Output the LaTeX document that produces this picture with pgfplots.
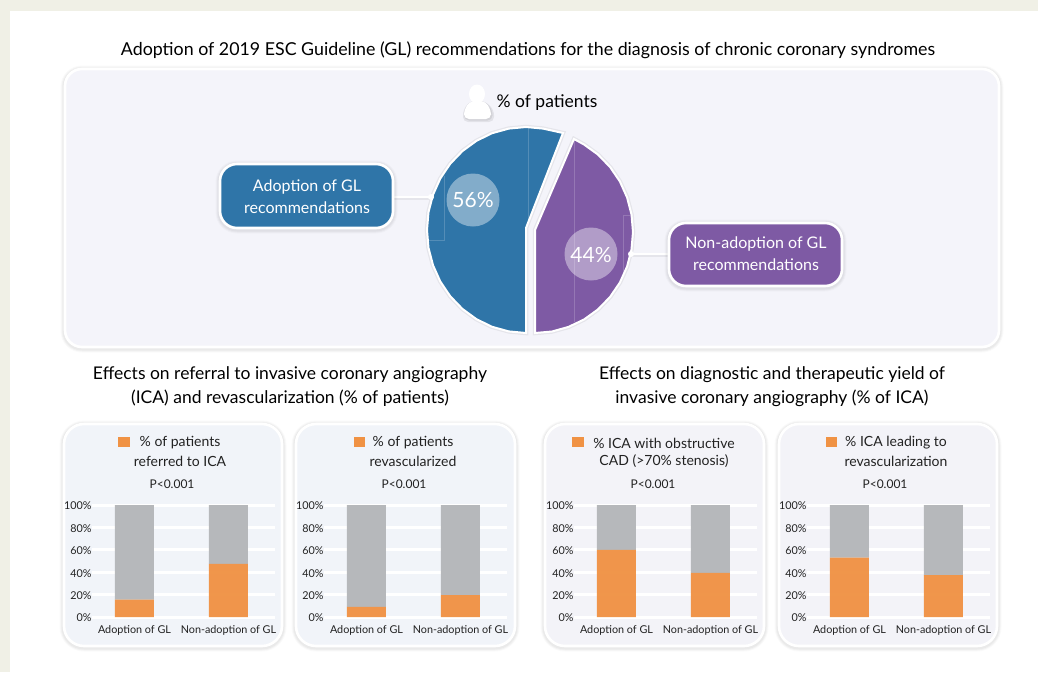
\documentclass[border=0pt]{standalone}
\usepackage{pgfplots}
\pgfplotsset{compat=1.18}
\usepackage{fontspec}
\setmainfont{Lato}
\definecolor{cream}{HTML}{F0F0E6}
\definecolor{panelA}{HTML}{F4F4FA}
\definecolor{panelB}{HTML}{F1F4F9}
\definecolor{panelC}{HTML}{F3F3F8}
\definecolor{pblue}{HTML}{2F75A8}
\definecolor{ppurple}{HTML}{7E5AA4}
\definecolor{porange}{HTML}{F09244}
\definecolor{pgray}{HTML}{B3B5B8}
\definecolor{txt}{HTML}{222222}
\pgfplotstableread{
x orange gray
0 15.5 84.5
1 47.5 52.5
}\tableA
\pgfplotstableread{
x orange gray
0 9 91
1 19.5 80.5
}\tableB
\pgfplotstableread{
x orange gray
0 60 40
1 39.5 60.5
}\tableC
\pgfplotstableread{
x orange gray
0 53 47
1 37.5 62.5
}\tableD
\pgfplotsset{
 barpanel/.style={
  scale only axis, width=183pt, height=112pt, anchor=south west,
  ybar stacked, bar width=39pt,
  ymin=0, ymax=100, ytick={0,20,40,60,80,100},
  yticklabel={\pgfmathprintnumber{\tick}\%},
  /pgf/number format/assume math mode=true,
  xmin=-0.452, xmax=1.495,
  xtick={0,1}, xticklabels={Adoption of GL,Non-adoption of GL},
  axis line style={draw=none}, major tick length=0pt,
  ymajorgrids, grid style={white, line width=3pt},
  tick label style={font=\fontsize{10.8}{12}\selectfont, text=txt},
  yticklabel style={xshift=3pt, yshift=-1pt},
  xticklabel style={yshift=-5pt},
  clip=false,
 },
 orangebar/.style={fill=porange, draw=none, fill opacity=0.96},
 graybar/.style={fill=pgray, draw=none, fill opacity=0.95},
}
\newcommand{\softbox}[6]{% x1 y1 x2 y2 radius fill
 \draw[black, line width=9pt, opacity=0.02, rounded corners=#5 pt] (axis cs:#1,#2+1) rectangle (axis cs:#3,#4+1);
 \draw[black, line width=7pt, opacity=0.03, rounded corners=#5 pt] (axis cs:#1,#2+1) rectangle (axis cs:#3,#4+1);
 \draw[black, line width=5pt, opacity=0.03, rounded corners=#5 pt] (axis cs:#1,#2+1) rectangle (axis cs:#3,#4+1);
 \draw[fill=#6, draw=white, line width=2.6pt, rounded corners=#5 pt]
    (axis cs:#1,#2) rectangle (axis cs:#3,#4);
}
\tikzset{
 lab/.style={font=\fontsize{#1}{#1}\selectfont, text=txt, inner sep=0pt, anchor=center},
 wlab/.style={font=\fontsize{#1}{#1}\selectfont, text=white, inner sep=0pt, anchor=center},
}
\begin{document}
\begin{tikzpicture}[x=1pt,y=1pt]
\useasboundingbox (0,0) rectangle (1038,672);
\fill[cream] (0,0) rectangle (1038,672);
\fill[white] (10,0) rectangle (1038,661);
\begin{axis}[at={(0pt,0pt)}, anchor=south west, scale only axis, width=1038pt, height=672pt,
  xmin=0, xmax=1038, ymin=0, ymax=672, y dir=reverse, hide axis, clip=false]
 % panels
 \softbox{65}{69}{999}{347}{17}{panelA}
 \softbox{64}{424}{282}{646}{20}{panelB}
 \softbox{296}{424}{515}{646}{20}{panelB}
 \softbox{545}{424}{764}{646}{20}{panelC}
 \softbox{779}{424}{997}{646}{20}{panelC}
 % connectors
 \draw[black, opacity=0.06, line width=3.5pt] (axis cs:394,198) -- (axis cs:432,198);
 \draw[black, opacity=0.06, line width=3.5pt] (axis cs:630,255) -- (axis cs:668,255);
 \draw[white, line width=2pt] (axis cs:394,197) -- (axis cs:432,197);
 \draw[white, line width=2pt] (axis cs:630,254) -- (axis cs:668,254);
 % pie slices
 \addplot[draw=black, draw opacity=0.06, line width=4.5pt, forget plot] coordinates {
  (526,228) (563,133) (543,128.6) (526,127) (508.8,128.6) (492.1,133.2) (476.5,140.8) (462.4,151.1)
  (450.2,163.8) (440.3,178.5) (433,194.8) (428.5,212.1) (427,230) (428.5,247.9) (433,265.2)
  (440.3,281.5) (450.2,296.2) (462.4,308.9) (476.5,319.2) (492.1,326.8) (508.8,331.4) (526,333)
 } -- cycle;
 \addplot[draw=black, draw opacity=0.06, line width=4.5pt, forget plot] coordinates {
  (535,230) (574,139) (584,144.5) (598,154.6) (610.1,167.1) (619.9,181.5) (627.1,197.5) (631.5,214.5)
  (633,232) (631.5,249.5) (627.1,266.5) (619.9,282.5) (610.1,296.9) (598,309.4) (584,319.5)
  (568.5,326.9) (552,331.5) (535,333)
 } -- cycle;
 \addplot[fill=pblue, draw=white, line width=2pt] coordinates {
  (526,228) (563,133) (543,128.6) (526,127) (508.8,128.6) (492.1,133.2) (476.5,140.8) (462.4,151.1)
  (450.2,163.8) (440.3,178.5) (433,194.8) (428.5,212.1) (427,230) (428.5,247.9) (433,265.2)
  (440.3,281.5) (450.2,296.2) (462.4,308.9) (476.5,319.2) (492.1,326.8) (508.8,331.4) (526,333)
 } -- cycle;
 \addplot[fill=ppurple, draw=white, line width=2pt] coordinates {
  (535,230) (574,139) (584,144.5) (598,154.6) (610.1,167.1) (619.9,181.5) (627.1,197.5) (631.5,214.5)
  (633,232) (631.5,249.5) (627.1,266.5) (619.9,282.5) (610.1,296.9) (598,309.4) (584,319.5)
  (568.5,326.9) (552,331.5) (535,333)
 } -- cycle;
 % faint artefact lines in the pie
 \draw[white, opacity=0.18, line width=0.5pt] (axis cs:528,128) -- (axis cs:528,222);
 \draw[white, opacity=0.18, line width=0.5pt] (axis cs:444.5,176) -- (axis cs:444.5,240) -- (axis cs:428,240);
 \draw[white, opacity=0.18, line width=0.5pt] (axis cs:574.6,140) -- (axis cs:574.6,322);
 \draw[white, opacity=0.18, line width=0.5pt] (axis cs:633,215) -- (axis cs:623,215) -- (axis cs:623,272);
 % value bubbles
 \fill[white, opacity=0.4] (axis cs:473,200) circle (26.5pt);
 \fill[white, opacity=0.4] (axis cs:591,254) circle (26.5pt);
 \node[wlab=21] at (axis cs:473,199.5) {56\%};
 \node[wlab=21] at (axis cs:591,254.5) {44\%};
 % dots
 \fill[white] (axis cs:431,197) circle (3pt);
 \fill[white] (axis cs:631,254) circle (3pt);
 % callouts
 \softbox{220}{164}{393}{228}{17}{pblue}
 \softbox{669}{223}{842}{286}{17}{ppurple}
 \node[wlab=16] at (axis cs:307,186.5) {Adoption of GL};
 \node[wlab=16] at (axis cs:307,207.5) {recommendations};
 \node[wlab=16] at (axis cs:756,243.5) {Non-adoption of GL};
 \node[wlab=16] at (axis cs:756,264.5) {recommendations};
 % person icon
 \fill[black, opacity=0.07, rounded corners=5pt] (axis cs:463,122) -- (axis cs:463,110) -- (axis cs:470,101) -- (axis cs:485,101) -- (axis cs:494,110) -- (axis cs:494,122) -- cycle;
 \fill[black, opacity=0.07, rounded corners=5pt] (axis cs:464,120.5) -- (axis cs:464,110) -- (axis cs:470,101) -- (axis cs:485,101) -- (axis cs:492.5,110) -- (axis cs:492.5,120.5) -- cycle;
 \fill[white, rounded corners=5pt] (axis cs:464,119) -- (axis cs:464,110) -- (axis cs:470,101) -- (axis cs:485,101) -- (axis cs:491,110) -- (axis cs:491,119) -- cycle;
 \fill[white] (axis cs:477,94) ellipse [x radius=8pt, y radius=9.5pt];
 \node[lab=17.5, text=black] at (axis cs:547,103) {\% of patients};
 % titles
 \node[lab=17.8, text=black] at (axis cs:528,50.5) {Adoption of 2019 ESC Guideline (GL) recommendations for the diagnosis of chronic coronary syndromes};
 \node[lab=17.5, text=black] at (axis cs:290,374.5) {Effects on referral to invasive coronary angiography};
 \node[lab=17.5, text=black] at (axis cs:290,398.5) {(ICA) and revascularization (\% of patients)};
 \node[lab=17.5, text=black] at (axis cs:772,374.5) {Effects on diagnostic and therapeutic yield of};
 \node[lab=17.5, text=black] at (axis cs:772,398.5) {invasive coronary angiography (\% of ICA)};
 % panel headers
 \fill[porange] (axis cs:118,437) rectangle (axis cs:130,447);
 \node[lab=14] at (axis cs:180,443) {\% of patients};
 \node[lab=14] at (axis cs:180,461) {referred to ICA};
 \node[lab=12] at (axis cs:172,484) {P<0.001};
 \fill[porange] (axis cs:354,437) rectangle (axis cs:365,447);
 \node[lab=14] at (axis cs:413,443) {\% of patients};
 \node[lab=14] at (axis cs:413,461) {revascularized};
 \node[lab=12] at (axis cs:404,484) {P<0.001};
 \fill[porange] (axis cs:572,437) rectangle (axis cs:584,447);
 \node[lab=14] at (axis cs:664,443) {\% ICA with obstructive};
 \node[lab=14] at (axis cs:664,461) {CAD (>70\% stenosis)};
 \node[lab=12] at (axis cs:653,484) {P<0.001};
 \fill[porange] (axis cs:826,437) rectangle (axis cs:837,447);
 \node[lab=14] at (axis cs:896,443) {\% ICA leading to};
 \node[lab=14] at (axis cs:896,461) {revascularization};
 \node[lab=12] at (axis cs:885,484) {P<0.001};
\end{axis}
\begin{axis}[barpanel, at={(92pt,55pt)}]
 \addplot[orangebar] table[x=x,y=orange] {\tableA};
 \addplot[graybar] table[x=x,y=gray] {\tableA};
 \draw[white, line width=3pt] (axis cs:-0.452,100) -- (axis cs:1.495,100);
\end{axis}
\begin{axis}[barpanel, at={(324pt,55pt)}]
 \addplot[orangebar] table[x=x,y=orange] {\tableB};
 \addplot[graybar] table[x=x,y=gray] {\tableB};
 \draw[white, line width=3pt] (axis cs:-0.452,100) -- (axis cs:1.495,100);
\end{axis}
\begin{axis}[barpanel, at={(574pt,55pt)}]
 \addplot[orangebar] table[x=x,y=orange] {\tableC};
 \addplot[graybar] table[x=x,y=gray] {\tableC};
 \draw[white, line width=3pt] (axis cs:-0.452,100) -- (axis cs:1.495,100);
\end{axis}
\begin{axis}[barpanel, at={(807pt,55pt)}]
 \addplot[orangebar] table[x=x,y=orange] {\tableD};
 \addplot[graybar] table[x=x,y=gray] {\tableD};
 \draw[white, line width=3pt] (axis cs:-0.452,100) -- (axis cs:1.495,100);
\end{axis}
\end{tikzpicture}
\end{document}
